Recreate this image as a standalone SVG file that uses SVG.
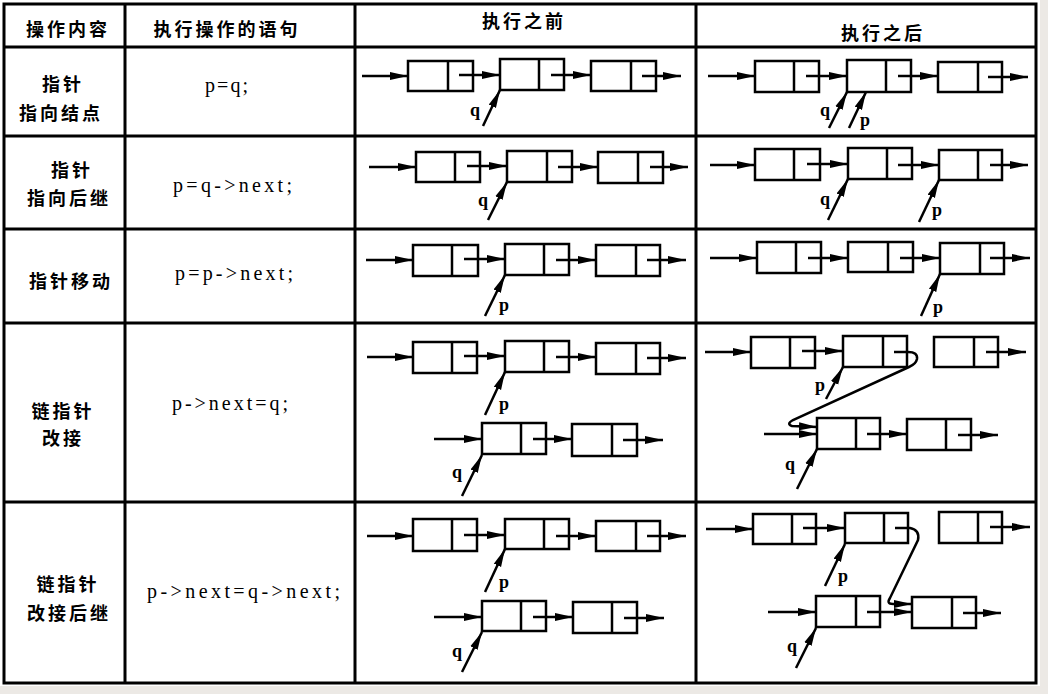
<svg xmlns="http://www.w3.org/2000/svg" width="1048" height="694" viewBox="0 0 1048 694">
<defs>
<style>
.grid{stroke:#000;stroke-width:3;fill:none}
.nb{fill:#fff;stroke:#000;stroke-width:2.5}
.dv{stroke:#000;stroke-width:2.5}
.ln{stroke:#000;stroke-width:2.5;fill:none;marker-end:url(#ah)}
.cn{font-family:"Noto Sans CJK SC","Noto Sans",sans-serif;font-weight:bold;font-size:18px;letter-spacing:3px;text-anchor:middle;fill:#000}
.code{font-family:"Liberation Serif",serif;font-size:20px;fill:#000}
.ptr{font-family:"Liberation Serif",serif;font-weight:bold;font-size:18px;text-anchor:middle;fill:#000}
</style>
<marker id="ah" markerUnits="userSpaceOnUse" markerWidth="20" markerHeight="10" refX="18" refY="4.5" orient="auto">
<path d="M0,0.5 L18,4.5 L0,8.5 Z" fill="#000"/>
</marker>
</defs>
<rect x="0" y="0" width="1048" height="694" fill="#ece9e5"/>
<rect x="0" y="0" width="1040" height="686" fill="#fff"/>

<g id="table" class="grid">
<rect x="4" y="4" width="1032" height="679"/>
<line x1="125" y1="4" x2="125" y2="683"/>
<line x1="355" y1="4" x2="355" y2="683"/>
<line x1="696" y1="4" x2="696" y2="683"/>
<line x1="4" y1="47" x2="1036" y2="47"/>
<line x1="4" y1="136" x2="1036" y2="136"/>
<line x1="4" y1="229" x2="1036" y2="229"/>
<line x1="4" y1="323" x2="1036" y2="323"/>
<line x1="4" y1="502" x2="1036" y2="502"/>
</g>

<g id="headers">
<text class="cn" x="68" y="36">操作内容</text>
<text class="cn" x="227" y="36">执行操作的语句</text>
<text class="cn" x="524" y="28">执行之前</text>
<text class="cn" x="883" y="40">执行之后</text>
</g>

<g id="ops">
<text class="cn" x="63" y="91">指针</text>
<text class="cn" x="61" y="120">指向结点</text>
<text class="cn" x="72" y="177">指针</text>
<text class="cn" x="69" y="205">指向后继</text>
<text class="cn" x="71" y="288">指针移动</text>
<text class="cn" x="63" y="418">链指针</text>
<text class="cn" x="63" y="445">改接</text>
<text class="cn" x="68" y="591">链指针</text>
<text class="cn" x="69" y="620">改接后继</text>
</g>

<g id="code">
<text class="code" x="205" y="92" textLength="43" lengthAdjust="spacing">p=q;</text>
<text class="code" x="173" y="192" textLength="119" lengthAdjust="spacing">p=q-&gt;next;</text>
<text class="code" x="175" y="280" textLength="118" lengthAdjust="spacing">p=p-&gt;next;</text>
<text class="code" x="172" y="410" textLength="116" lengthAdjust="spacing">p-&gt;next=q;</text>
<text class="code" x="147" y="598" textLength="193" lengthAdjust="spacing">p-&gt;next=q-&gt;next;</text>
</g>

<!-- Row 1 before -->
<g id="r1b-n1"><rect class="nb" x="408" y="61" width="65" height="30"/><line class="dv" x1="448" y1="61" x2="448" y2="91"/></g>
<g id="r1b-n2"><rect class="nb" x="500" y="59" width="64" height="31"/><line class="dv" x1="539" y1="59" x2="539" y2="90"/></g>
<g id="r1b-n3"><rect class="nb" x="591" y="61" width="65" height="30"/><line class="dv" x1="631" y1="61" x2="631" y2="91"/></g>
<!-- Row 1 after -->
<g id="r1a-n1"><rect class="nb" x="755" y="61" width="64" height="31"/><line class="dv" x1="794" y1="61" x2="794" y2="92"/></g>
<g id="r1a-n2"><rect class="nb" x="847" y="60" width="64" height="32"/><line class="dv" x1="886" y1="60" x2="886" y2="92"/></g>
<g id="r1a-n3"><rect class="nb" x="938" y="62" width="64" height="30"/><line class="dv" x1="978" y1="62" x2="978" y2="92"/></g>
<!-- Row 2 before -->
<g id="r2b-n1"><rect class="nb" x="416" y="152" width="64" height="30"/><line class="dv" x1="455" y1="152" x2="455" y2="182"/></g>
<g id="r2b-n2"><rect class="nb" x="507" y="151" width="65" height="31"/><line class="dv" x1="547" y1="151" x2="547" y2="182"/></g>
<g id="r2b-n3"><rect class="nb" x="598" y="152" width="65" height="31"/><line class="dv" x1="638" y1="152" x2="638" y2="183"/></g>
<!-- Row 2 after -->
<g id="r2a-n1"><rect class="nb" x="755" y="149" width="65" height="31"/><line class="dv" x1="794" y1="149" x2="794" y2="180"/></g>
<g id="r2a-n2"><rect class="nb" x="848" y="148" width="64" height="31"/><line class="dv" x1="887" y1="148" x2="887" y2="179"/></g>
<g id="r2a-n3"><rect class="nb" x="939" y="150" width="63" height="30"/><line class="dv" x1="978" y1="150" x2="978" y2="180"/></g>
<!-- Row 3 before -->
<g id="r3b-n1"><rect class="nb" x="413" y="245" width="65" height="31"/><line class="dv" x1="452" y1="245" x2="452" y2="276"/></g>
<g id="r3b-n2"><rect class="nb" x="505" y="244" width="64" height="31"/><line class="dv" x1="544" y1="244" x2="544" y2="275"/></g>
<g id="r3b-n3"><rect class="nb" x="596" y="245" width="64" height="31"/><line class="dv" x1="636" y1="245" x2="636" y2="276"/></g>
<!-- Row 3 after -->
<g id="r3a-n1"><rect class="nb" x="757" y="242" width="64" height="31"/><line class="dv" x1="796" y1="242" x2="796" y2="273"/></g>
<g id="r3a-n2"><rect class="nb" x="848" y="242" width="65" height="30"/><line class="dv" x1="888" y1="242" x2="888" y2="272"/></g>
<g id="r3a-n3"><rect class="nb" x="940" y="243" width="64" height="31"/><line class="dv" x1="980" y1="243" x2="980" y2="274"/></g>
<!-- Row 4 before -->
<g id="r4b-n1"><rect class="nb" x="413" y="342" width="64" height="31"/><line class="dv" x1="452" y1="342" x2="452" y2="373"/></g>
<g id="r4b-n2"><rect class="nb" x="505" y="341" width="64" height="31"/><line class="dv" x1="544" y1="341" x2="544" y2="372"/></g>
<g id="r4b-n3"><rect class="nb" x="596" y="343" width="64" height="31"/><line class="dv" x1="636" y1="343" x2="636" y2="374"/></g>
<g id="r4b-n4"><rect class="nb" x="482" y="423" width="64" height="31"/><line class="dv" x1="521" y1="423" x2="521" y2="454"/></g>
<g id="r4b-n5"><rect class="nb" x="572" y="424" width="65" height="32"/><line class="dv" x1="612" y1="424" x2="612" y2="456"/></g>
<!-- Row 4 after -->
<g id="r4a-n1"><rect class="nb" x="751" y="337" width="64" height="31"/><line class="dv" x1="790" y1="337" x2="790" y2="368"/></g>
<g id="r4a-n2"><rect class="nb" x="843" y="336" width="64" height="31"/><line class="dv" x1="883" y1="336" x2="883" y2="367"/></g>
<g id="r4a-n3"><rect class="nb" x="934" y="337" width="64" height="30"/><line class="dv" x1="974" y1="337" x2="974" y2="367"/></g>
<g id="r4a-n4"><rect class="nb" x="817" y="418" width="63" height="31"/><line class="dv" x1="856" y1="418" x2="856" y2="449"/></g>
<g id="r4a-n5"><rect class="nb" x="907" y="419" width="64" height="31"/><line class="dv" x1="946" y1="419" x2="946" y2="450"/></g>
<!-- Row 5 before -->
<g id="r5b-n1"><rect class="nb" x="413" y="519" width="64" height="32"/><line class="dv" x1="452" y1="519" x2="452" y2="551"/></g>
<g id="r5b-n2"><rect class="nb" x="505" y="519" width="64" height="30"/><line class="dv" x1="544" y1="519" x2="544" y2="549"/></g>
<g id="r5b-n3"><rect class="nb" x="596" y="521" width="64" height="30"/><line class="dv" x1="636" y1="521" x2="636" y2="551"/></g>
<g id="r5b-n4"><rect class="nb" x="482" y="601" width="64" height="30"/><line class="dv" x1="521" y1="601" x2="521" y2="631"/></g>
<g id="r5b-n5"><rect class="nb" x="573" y="602" width="64" height="31"/><line class="dv" x1="612" y1="602" x2="612" y2="633"/></g>
<!-- Row 5 after -->
<g id="r5a-n1"><rect class="nb" x="753" y="514" width="63" height="30"/><line class="dv" x1="792" y1="514" x2="792" y2="544"/></g>
<g id="r5a-n2"><rect class="nb" x="845" y="513" width="63" height="30"/><line class="dv" x1="884" y1="513" x2="884" y2="543"/></g>
<g id="r5a-n3"><rect class="nb" x="939" y="512" width="63" height="31"/><line class="dv" x1="978" y1="512" x2="978" y2="543"/></g>
<g id="r5a-n4"><rect class="nb" x="816" y="596" width="64" height="31"/><line class="dv" x1="856" y1="596" x2="856" y2="627"/></g>
<g id="r5a-n5"><rect class="nb" x="912" y="597" width="64" height="31"/><line class="dv" x1="952" y1="597" x2="952" y2="628"/></g>

<g id="connectors">
<!-- r1b -->
<line class="ln" x1="362" y1="76" x2="408" y2="76"/>
<line class="ln" x1="459" y1="75" x2="500" y2="75"/>
<line class="ln" x1="551" y1="75" x2="591" y2="75"/>
<line class="ln" x1="642" y1="76" x2="681" y2="76"/>
<line class="ln" x1="483" y1="126" x2="500" y2="90"/>
<!-- r1a -->
<line class="ln" x1="708" y1="76" x2="755" y2="76"/>
<line class="ln" x1="806" y1="76" x2="847" y2="76"/>
<line class="ln" x1="898" y1="76" x2="938" y2="76"/>
<line class="ln" x1="988" y1="77" x2="1028" y2="77"/>
<line class="ln" x1="829" y1="128" x2="847" y2="92"/>
<line class="ln" x1="849" y1="128" x2="866" y2="92"/>
<!-- r2b -->
<line class="ln" x1="369" y1="167" x2="416" y2="167"/>
<line class="ln" x1="467" y1="166" x2="507" y2="166"/>
<line class="ln" x1="558" y1="167" x2="598" y2="167"/>
<line class="ln" x1="650" y1="167" x2="688" y2="167"/>
<line class="ln" x1="488" y1="220" x2="507" y2="182"/>
<!-- r2a -->
<line class="ln" x1="710" y1="165" x2="755" y2="165"/>
<line class="ln" x1="807" y1="164" x2="848" y2="164"/>
<line class="ln" x1="898" y1="165" x2="939" y2="165"/>
<line class="ln" x1="990" y1="165" x2="1028" y2="165"/>
<line class="ln" x1="828" y1="220" x2="848" y2="179"/>
<line class="ln" x1="919" y1="222" x2="939" y2="180"/>
<!-- r3b -->
<line class="ln" x1="366" y1="260" x2="413" y2="260"/>
<line class="ln" x1="464" y1="259" x2="505" y2="259"/>
<line class="ln" x1="556" y1="260" x2="596" y2="260"/>
<line class="ln" x1="647" y1="260" x2="686" y2="260"/>
<line class="ln" x1="485" y1="316" x2="505" y2="275"/>
<!-- r3a -->
<line class="ln" x1="710" y1="258" x2="757" y2="258"/>
<line class="ln" x1="808" y1="258" x2="848" y2="258"/>
<line class="ln" x1="900" y1="258" x2="940" y2="258"/>
<line class="ln" x1="990" y1="258" x2="1030" y2="258"/>
<line class="ln" x1="921" y1="316" x2="940" y2="274"/>
<!-- r4b -->
<line class="ln" x1="367" y1="357" x2="413" y2="357"/>
<line class="ln" x1="464" y1="356" x2="505" y2="356"/>
<line class="ln" x1="556" y1="357" x2="596" y2="357"/>
<line class="ln" x1="647" y1="358" x2="686" y2="358"/>
<line class="ln" x1="485" y1="415" x2="505" y2="372"/>
<line class="ln" x1="434" y1="439" x2="482" y2="439"/>
<line class="ln" x1="533" y1="439" x2="572" y2="439"/>
<line class="ln" x1="623" y1="440" x2="663" y2="440"/>
<line class="ln" x1="462" y1="496" x2="482" y2="455"/>
<!-- r4a -->
<line class="ln" x1="705" y1="352" x2="751" y2="352"/>
<line class="ln" x1="802" y1="351" x2="843" y2="351"/>
<line class="ln" x1="986" y1="352" x2="1026" y2="352"/>
<path class="ln" d="M894,352 L908,352 Q918,352 917,359 Q916,364 909,367 L793,420 Q786,424 792,426 L817,427"/>
<line class="ln" x1="826" y1="399" x2="843" y2="367"/>
<line class="ln" x1="764" y1="434" x2="817" y2="434"/>
<line class="ln" x1="867" y1="434" x2="907" y2="434"/>
<line class="ln" x1="958" y1="435" x2="998" y2="435"/>
<line class="ln" x1="797" y1="489" x2="817" y2="449"/>
<!-- r5b -->
<line class="ln" x1="367" y1="536" x2="413" y2="536"/>
<line class="ln" x1="464" y1="535" x2="505" y2="535"/>
<line class="ln" x1="556" y1="536" x2="596" y2="536"/>
<line class="ln" x1="647" y1="536" x2="686" y2="536"/>
<line class="ln" x1="485" y1="592" x2="505" y2="549"/>
<line class="ln" x1="434" y1="617" x2="482" y2="617"/>
<line class="ln" x1="533" y1="617" x2="573" y2="617"/>
<line class="ln" x1="624" y1="618" x2="664" y2="618"/>
<line class="ln" x1="462" y1="672" x2="482" y2="632"/>
<!-- r5a -->
<line class="ln" x1="706" y1="529" x2="753" y2="529"/>
<line class="ln" x1="803" y1="528" x2="845" y2="528"/>
<line class="ln" x1="990" y1="527" x2="1030" y2="527"/>
<path class="ln" d="M895,528 L910,528 Q920,530 918,540 L890,598 Q886,604 893,604 L912,604"/>
<line class="ln" x1="825" y1="586" x2="845" y2="544"/>
<line class="ln" x1="768" y1="612" x2="816" y2="612"/>
<line class="ln" x1="867" y1="612" x2="912" y2="612"/>
<line class="ln" x1="963" y1="613" x2="1001" y2="613"/>
<line class="ln" x1="796" y1="668" x2="816" y2="628"/>
</g>

<g id="pointer-labels">
<text class="ptr" x="475" y="116">q</text>
<text class="ptr" x="825" y="116">q</text>
<text class="ptr" x="865" y="126">p</text>
<text class="ptr" x="483" y="206">q</text>
<text class="ptr" x="825" y="205">q</text>
<text class="ptr" x="937" y="216">p</text>
<text class="ptr" x="504" y="311">p</text>
<text class="ptr" x="938" y="313">p</text>
<text class="ptr" x="504" y="410">p</text>
<text class="ptr" x="457" y="478">q</text>
<text class="ptr" x="820" y="391">p</text>
<text class="ptr" x="790" y="470">q</text>
<text class="ptr" x="504" y="588">p</text>
<text class="ptr" x="457" y="657">q</text>
<text class="ptr" x="843" y="582">p</text>
<text class="ptr" x="792" y="652">q</text>
</g>
</svg>
